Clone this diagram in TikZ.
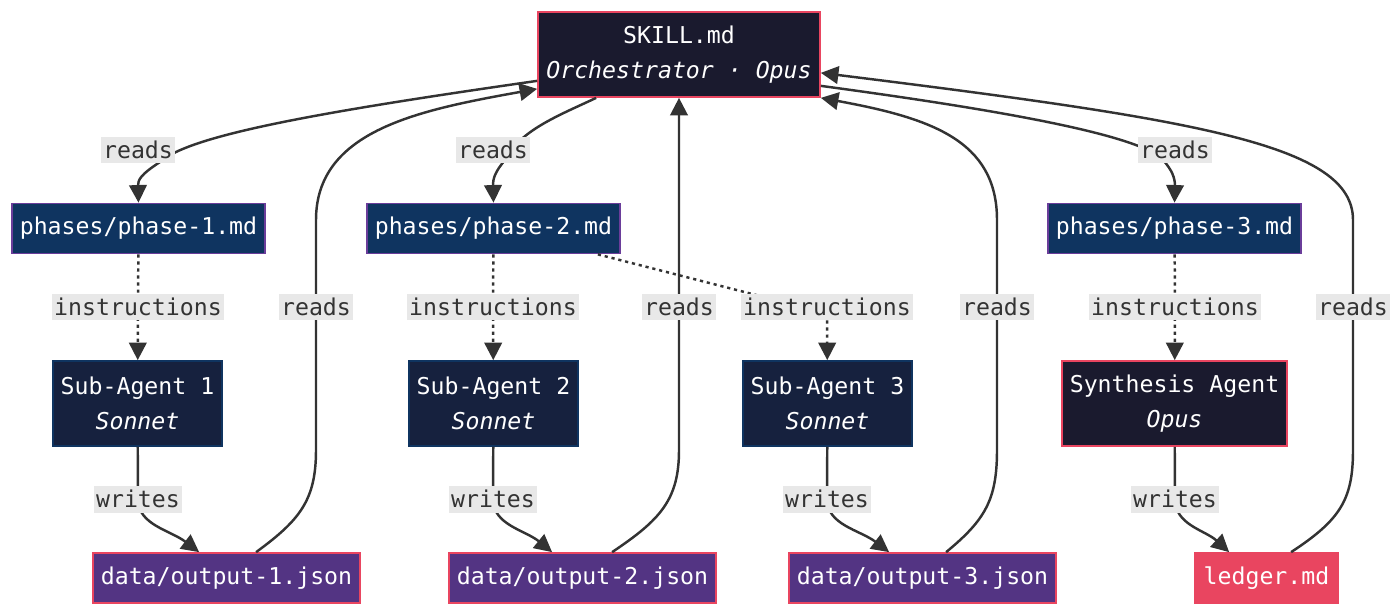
\documentclass[tikz,border=0pt]{standalone}
\usepackage{fontspec}
\setmonofont{DejaVu Sans Mono}
\usetikzlibrary{arrows.meta}
\definecolor{orchcolor}{HTML}{1A1A2E}
\definecolor{phasecolor}{HTML}{0F3460}
\definecolor{agentcolor}{HTML}{16213E}
\definecolor{outcolor}{HTML}{533483}
\definecolor{bordercrimson}{HTML}{E94560}
\definecolor{borderviolet}{HTML}{6A3D9A}
\definecolor{borderblue}{HTML}{0F3460}
\definecolor{linecolor}{HTML}{333333}
\definecolor{lblcolor}{HTML}{E8E8E8}
\tikzset{
  basebox/.style={
    rectangle, line width=1pt, text=white, align=center,
    inner sep=0pt, font=\ttfamily\fontsize{13.2}{20}\selectfont
  },
  orchbox/.style={
    basebox, draw=bordercrimson, fill=orchcolor,
    minimum width=5.64cm, minimum height=1.7cm
  },
  phasebox/.style={
    basebox, draw=borderviolet, fill=phasecolor,
    minimum width=5.06cm, minimum height=1.0cm
  },
  agentbox/.style={
    basebox, draw=borderblue, fill=agentcolor,
    minimum width=3.38cm, minimum height=1.7cm
  },
  synthbox/.style={
    basebox, draw=bordercrimson, fill=orchcolor,
    minimum width=4.5cm, minimum height=1.7cm
  },
  outbox/.style={
    basebox, draw=bordercrimson, fill=outcolor,
    minimum width=5.34cm, minimum height=1.0cm
  },
  ledgerbox/.style={
    basebox, draw=bordercrimson, fill=bordercrimson,
    minimum width=2.86cm, minimum height=1.0cm
  },
  arrow/.style={-{Triangle[length=10pt,width=10pt]}, line width=1.4pt, draw=linecolor},
  dotarrow/.style={arrow, dash pattern=on 1.8pt off 2.2pt},
  lbl/.style={fill=lblcolor, text=linecolor, inner xsep=1pt, inner ysep=0pt,
    minimum height=0.54cm, font=\ttfamily\fontsize{13.2}{16}\selectfont}
}

\begin{document}
\begin{tikzpicture}[x=0.02cm, y=-0.02cm]
  \useasboundingbox (0,0) rectangle (1400,615);

  %% ---- Top: orchestrator ----
  \node[orchbox] (skill) at (679,54.5)
    {SKILL.md\\\textit{Orchestrator · Opus}};

  %% ---- Phase files ----
  \node[phasebox] (phase1) at (138.5,228.5) {phases/phase-1.md};
  \node[phasebox] (phase2) at (493.5,228.5) {phases/phase-2.md};
  \node[phasebox] (phase3) at (1174.5,228.5) {phases/phase-3.md};

  %% ---- Agents ----
  \node[agentbox] (sub1) at (137.5,403.5) {Sub-Agent 1\\\textit{Sonnet}};
  \node[agentbox] (sub2) at (493.5,403.5) {Sub-Agent 2\\\textit{Sonnet}};
  \node[agentbox] (sub3) at (827.5,403.5) {Sub-Agent 3\\\textit{Sonnet}};
  \node[synthbox] (synth) at (1174.5,403.5) {Synthesis Agent\\\textit{Opus}};

  %% ---- Outputs ----
  \node[outbox] (out1) at (226.5,578) {data/output-1.json};
  \node[outbox] (out2) at (582.5,578) {data/output-2.json};
  \node[outbox] (out3) at (922.5,578) {data/output-3.json};
  \node[ledgerbox] (ledger) at (1266.5,578) {ledger.md};

  %% ---- orchestrator reads phases ----
  \draw[arrow] ([yshift=0.34cm]skill.south west)
    .. controls (320,112) and (190,135) .. (160,162)
    .. controls (140,175) and (138,180) .. (138,186) -- (phase1.north)
    node[lbl] at (138,150) {reads};
  \draw[arrow] ([xshift=1.18cm]skill.south west)
    .. controls (560,115) and (520,130) .. (505,160)
    .. controls (495,172) and (493,178) .. (493,186) -- (phase2.north)
    node[lbl] at (493,150) {reads};
  \draw[arrow] ([yshift=0.24cm]skill.south east)
    .. controls (1000,110) and (1140,135) .. (1163,160)
    .. controls (1172,170) and (1175,178) .. (1175,186) -- (phase3.north)
    node[lbl] at (1175,150) {reads};

  %% ---- phases hand instructions to agents ----
  \draw[dotarrow] (phase1) -- (138,307) node[lbl]{instructions} -- (sub1);
  \draw[dotarrow] (phase2) -- (493,307) node[lbl]{instructions} -- (sub2);
  \draw[dotarrow] ([xshift=-0.46cm]phase2.south east)
    -- (760,296) .. controls (800,305) and (827,290) .. (827,307)
    node[lbl]{instructions} -- (sub3);
  \draw[dotarrow] (phase3) -- (1175,307) node[lbl]{instructions} -- (synth);

  %% ---- agents write outputs ----
  \draw[arrow] (sub1) -- (138,499) node[lbl]{writes}
    .. controls (138,525) and (170,530) .. ([xshift=2.14cm]out1.north west);
  \draw[arrow] (sub2) -- (493,499) node[lbl]{writes}
    .. controls (493,525) and (525,530) .. ([xshift=2.08cm]out2.north west);
  \draw[arrow] (sub3) -- (827,499) node[lbl]{writes}
    .. controls (827,525) and (860,530) .. ([xshift=2.02cm]out3.north west);
  \draw[arrow] (synth) -- (1175,499) node[lbl]{writes}
    .. controls (1175,525) and (1205,530) .. ([xshift=0.7cm]ledger.north west);

  %% ---- orchestrator reads outputs back ----
  \draw[arrow] ([xshift=3.28cm]out1.north west)
    .. controls (300,520) and (316,500) .. (316,450)
    -- (316,307) node[lbl]{reads} -- (316,220)
    .. controls (316,130) and (420,110) .. ([yshift=0.18cm]skill.south west);
  \draw[arrow] ([xshift=3.28cm]out2.north west)
    .. controls (660,520) and (679,500) .. (679,450)
    -- (679,307) node[lbl]{reads} -- (skill.south);
  \draw[arrow] ([xshift=3.16cm]out3.north west)
    .. controls (985,520) and (997,500) .. (997,450)
    -- (997,307) node[lbl]{reads} -- (997,220)
    .. controls (997,140) and (930,118) .. (skill.south east);
  \draw[arrow] ([xshift=1.94cm]ledger.north west)
    .. controls (1340,520) and (1353,500) .. (1353,450)
    -- (1353,307) node[lbl]{reads} -- (1353,220)
    .. controls (1353,145) and (1200,120) .. ([yshift=0.5cm]skill.south east);

\end{tikzpicture}
\end{document}
